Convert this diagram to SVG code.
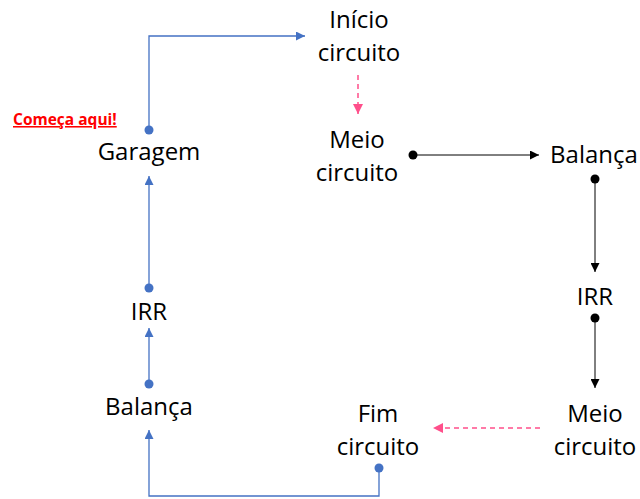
<svg xmlns="http://www.w3.org/2000/svg" width="640" height="499" viewBox="0 0 640 499">
<style>
.t{font-family:"Open Sans","Noto Sans",sans-serif;font-size:24px;fill:#000;text-anchor:middle}
.r{font-family:"Open Sans","Noto Sans",sans-serif;font-size:15.5px;font-weight:bold;fill:#FF0000;text-decoration:underline}
.b{stroke:#4472C4;stroke-width:1.3;fill:none}
.k{stroke:#000;stroke-width:1;fill:none}
.p{stroke:#FF4F8B;stroke-width:1.5;fill:none;stroke-dasharray:5 4}
</style>
<defs>
<marker id="ab" viewBox="0 0 10 10" refX="10" refY="5" markerWidth="9" markerHeight="9" markerUnits="userSpaceOnUse" orient="auto"><path d="M0,0L10,5L0,10z" fill="#4472C4"/></marker>
<marker id="ak" viewBox="0 0 10 10" refX="10" refY="5" markerWidth="9" markerHeight="9" markerUnits="userSpaceOnUse" orient="auto"><path d="M0,0L10,5L0,10z" fill="#000"/></marker>
<marker id="ap" viewBox="0 0 10 10" refX="10" refY="5" markerWidth="10" markerHeight="10" markerUnits="userSpaceOnUse" orient="auto"><path d="M0,0L10,5L0,10z" fill="#FF4F8B"/></marker>
</defs>
<g id="connectors">
<path class="b" d="M149,130V36H305" marker-end="url(#ab)"/>
<circle cx="149" cy="130" r="4.5" fill="#4472C4"/>
<path class="b" d="M149,288V176" marker-end="url(#ab)"/>
<circle cx="149" cy="288" r="4.5" fill="#4472C4"/>
<path class="b" d="M149,384V328" marker-end="url(#ab)"/>
<circle cx="149" cy="384" r="4.5" fill="#4472C4"/>
<path class="b" d="M379,468V496H149V430" marker-end="url(#ab)"/>
<circle cx="379" cy="468" r="4.5" fill="#4472C4"/>
<path class="p" d="M358,75V114" marker-end="url(#ap)"/>
<path class="k" d="M413,155H539" marker-end="url(#ak)"/>
<circle cx="413" cy="155" r="4.5" fill="#000"/>
<path class="k" d="M595,179V272" marker-end="url(#ak)"/>
<circle cx="595" cy="179" r="4.5" fill="#000"/>
<path class="k" d="M595,318V388" marker-end="url(#ak)"/>
<circle cx="595" cy="318" r="4.5" fill="#000"/>
<path class="p" d="M540,428H433" marker-end="url(#ap)"/>
</g>
<g id="label-start"><text class="r" x="13" y="125">Começa aqui!</text></g>
<g id="garagem"><text class="t" x="149" y="160">Garagem</text></g>
<g id="irr-left"><text class="t" x="149" y="320">IRR</text></g>
<g id="balanca-left"><text class="t" x="149" y="415">Balança</text></g>
<g id="inicio"><text class="t" x="359" y="28">Início</text><text class="t" x="359" y="61">circuito</text></g>
<g id="meio1"><text class="t" x="357" y="148">Meio</text><text class="t" x="357" y="181">circuito</text></g>
<g id="balanca-right"><text class="t" x="594" y="163">Balança</text></g>
<g id="irr-right"><text class="t" x="595" y="305">IRR</text></g>
<g id="meio2"><text class="t" x="595" y="422">Meio</text><text class="t" x="595" y="455">circuito</text></g>
<g id="fim"><text class="t" x="378" y="422">Fim</text><text class="t" x="378" y="455">circuito</text></g>
</svg>
